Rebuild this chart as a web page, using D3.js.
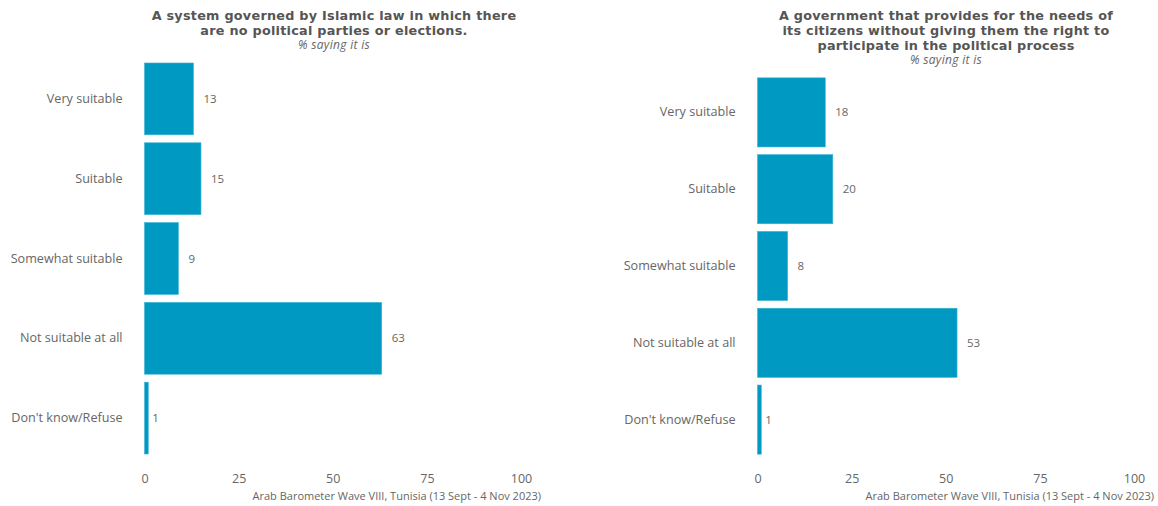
<!DOCTYPE html>
<html><head><meta charset="utf-8">
<script src="https://cdn.jsdelivr.net/npm/d3@7"></script>
<style>body{margin:0;background:#fff}svg{display:block}text{font-family:"Open Sans","DejaVu Sans",sans-serif}</style>
</head><body>
<svg id="c" width="1158" height="506"></svg>
<script>
const categories = ["Very suitable","Suitable","Somewhat suitable","Not suitable at all","Don't know/Refuse"];
const valuesLeft = [13,15,9,63,1];
const valuesRight = [18,20,8,53,1];
const ticks = [0,25,50,75,100];
const titleLeft = ["A system governed by Islamic law in which there","are no political parties or elections."];
const titleRight = ["A government that provides for the needs of","its citizens without giving them the right to","participate in the political process"];
const subtitle = "% saying it is";
const caption = "Arab Barometer Wave VIII, Tunisia (13 Sept - 4 Nov 2023)";

const svg = d3.select("#c");
const barColor = "#0099c1", textColor = "#666";
const ff = '"Open Sans","DejaVu Sans",sans-serif';
const tf = '"DejaVu Sans",sans-serif';

function panel(x0, yRange, values, titleLines, titleCx, captionRight) {
  const x = d3.scaleLinear().domain([0,100]).range([x0, x0+376.5]);
  const y = d3.scaleBand().domain(categories).range(yRange).paddingInner(0.1).paddingOuter(0.05);
  const g = svg.append("g");
  g.selectAll("rect").data(values).join("rect")
    .attr("x", x(0)).attr("y", (d,i)=>y(categories[i]))
    .attr("width", d=>x(d)-x(0)).attr("height", y.bandwidth())
    .attr("fill", barColor).attr("stroke","#3db3d3").attr("stroke-width",0.6);
  g.selectAll("text.val").data(values).join("text").attr("class","val")
    .attr("x", d=>x(d)+ (d<5?4:10)).attr("y",(d,i)=>y(categories[i])+y.bandwidth()/2)
    .attr("dy","0.35em").attr("font-size",11.5).attr("fill",textColor).text(d=>d);
  const ya = g.append("g").attr("transform",`translate(${x(0)-12},0)`)
    .call(d3.axisLeft(y).tickSize(0).tickPadding(10));
  ya.select(".domain").remove();
  ya.selectAll("text").attr("font-size",12.6).attr("fill",textColor).style("font-family",ff);
  const xa = g.append("g").attr("transform",`translate(0,${yRange[1]+10})`)
    .call(d3.axisBottom(x).tickValues(ticks).tickSize(0).tickPadding(6));
  xa.select(".domain").remove();
  xa.selectAll("text").attr("font-size",12.5).attr("fill",textColor).style("font-family",ff);
  titleLines.forEach((t,i)=>{
    g.append("text").attr("x",titleCx).attr("y",20+i*15).attr("text-anchor","middle")
      .style("font-family",tf).attr("font-size",12.8).attr("letter-spacing","0.25px")
      .attr("font-weight","bold").attr("fill","#555").text(t);
  });
  g.append("text").attr("x",titleCx).attr("y",20+titleLines.length*15-1).attr("text-anchor","middle")
    .attr("font-size",12).attr("letter-spacing","0.3px").attr("font-style","italic").attr("fill",textColor).text(subtitle);
  g.append("text").attr("x",captionRight).attr("y",500).attr("text-anchor","end")
    .attr("font-size",11).attr("fill",textColor).text(caption);
}
panel(144.5,[59,458],valuesLeft,titleLeft,334,541);
panel(757.5,[74,458],valuesRight,titleRight,946,1154);
</script>
</body></html>
